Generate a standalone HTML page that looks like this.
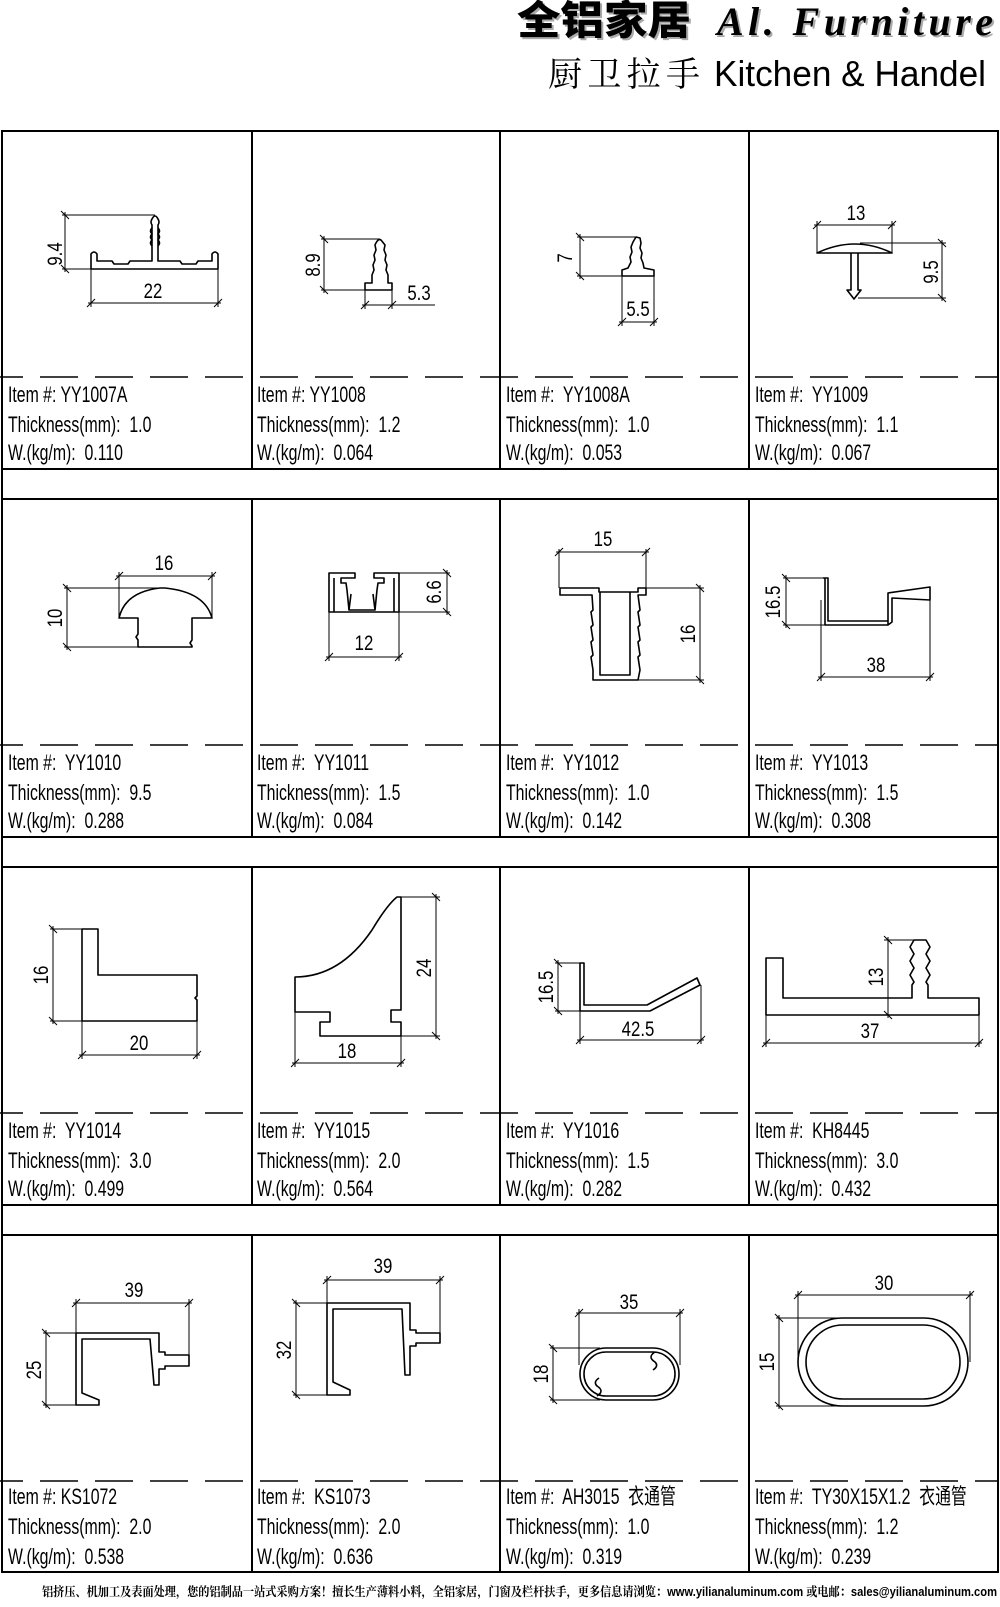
<!DOCTYPE html>
<html><head><meta charset="utf-8"><style>
html,body{margin:0;padding:0;background:#fff;}
svg{display:block}
.p{fill:none;stroke:#000;stroke-width:1.6;stroke-linejoin:round}
.d{fill:none;stroke:#000;stroke-width:1}
.t{font-family:"Liberation Sans",sans-serif;font-size:22px;fill:#000}
.t text{white-space:pre}
.n{font-family:"Liberation Sans",sans-serif;font-size:21px;fill:#000}
</style></head><body>
<svg width="1000" height="1607" viewBox="0 0 1000 1607" xmlns="http://www.w3.org/2000/svg">
<!-- header -->
<text x="519" y="36" fill="#aaa" font-family="'Noto Sans CJK SC',sans-serif" font-weight="900" font-size="40" textLength="174" lengthAdjust="spacingAndGlyphs">全铝家居</text>
<text x="517" y="34" font-family="'Noto Sans CJK SC',sans-serif" font-weight="900" font-size="40" textLength="174" lengthAdjust="spacingAndGlyphs">全铝家居</text>
<text x="717" y="35" fill="#aaa" font-family="'Liberation Serif',serif" font-weight="bold" font-style="italic" font-size="40" textLength="276" transform="translate(2,2)">Al. Furniture</text>
<text x="717" y="35" font-family="'Liberation Serif',serif" font-weight="bold" font-style="italic" font-size="40" textLength="276">Al. Furniture</text>
<text x="548" y="86" font-family="'Noto Serif CJK SC',serif" font-size="34" textLength="152">厨卫拉手</text>
<text x="714" y="86" font-family="'Liberation Sans',sans-serif" font-size="36" textLength="272" lengthAdjust="spacingAndGlyphs">Kitchen &amp; Handel</text>

<!-- table -->
<g stroke="#000" stroke-width="2" fill="none">
<rect x="2" y="131" width="996" height="1441"/>
<line x1="2" y1="469" x2="998" y2="469"/><line x1="2" y1="499" x2="998" y2="499"/>
<line x1="2" y1="837" x2="998" y2="837"/><line x1="2" y1="867" x2="998" y2="867"/>
<line x1="2" y1="1205" x2="998" y2="1205"/><line x1="2" y1="1235" x2="998" y2="1235"/>
<line x1="252" y1="131" x2="252" y2="469"/><line x1="500" y1="131" x2="500" y2="469"/><line x1="749" y1="131" x2="749" y2="469"/>
<line x1="252" y1="499" x2="252" y2="837"/><line x1="500" y1="499" x2="500" y2="837"/><line x1="749" y1="499" x2="749" y2="837"/>
<line x1="252" y1="867" x2="252" y2="1205"/><line x1="500" y1="867" x2="500" y2="1205"/><line x1="749" y1="867" x2="749" y2="1205"/>
<line x1="252" y1="1235" x2="252" y2="1572"/><line x1="500" y1="1235" x2="500" y2="1572"/><line x1="749" y1="1235" x2="749" y2="1572"/>
</g>
<g stroke="#000" stroke-width="1.5" stroke-dasharray="38 17">
<line x1="-15" y1="377" x2="998" y2="377"/>
<line x1="-15" y1="745" x2="998" y2="745"/>
<line x1="-15" y1="1113" x2="998" y2="1113"/>
<line x1="-15" y1="1481" x2="998" y2="1481"/>
</g>

<!-- info texts -->
<g class="t">
<g transform="translate(8,0) scale(0.72,1)"><text y="402">Item #: YY1007A</text><text y="432">Thickness(mm):  1.0</text><text y="460">W.(kg/m):  0.110</text></g>
<g transform="translate(257,0) scale(0.72,1)"><text y="402">Item #: YY1008</text><text y="432">Thickness(mm):  1.2</text><text y="460">W.(kg/m):  0.064</text></g>
<g transform="translate(506,0) scale(0.72,1)"><text y="402">Item #:  YY1008A</text><text y="432">Thickness(mm):  1.0</text><text y="460">W.(kg/m):  0.053</text></g>
<g transform="translate(755,0) scale(0.72,1)"><text y="402">Item #:  YY1009</text><text y="432">Thickness(mm):  1.1</text><text y="460">W.(kg/m):  0.067</text></g>

<g transform="translate(8,368) scale(0.72,1)"><text y="402">Item #:  YY1010</text><text y="432">Thickness(mm):  9.5</text><text y="460">W.(kg/m):  0.288</text></g>
<g transform="translate(257,368) scale(0.72,1)"><text y="402">Item #:  YY1011</text><text y="432">Thickness(mm):  1.5</text><text y="460">W.(kg/m):  0.084</text></g>
<g transform="translate(506,368) scale(0.72,1)"><text y="402">Item #:  YY1012</text><text y="432">Thickness(mm):  1.0</text><text y="460">W.(kg/m):  0.142</text></g>
<g transform="translate(755,368) scale(0.72,1)"><text y="402">Item #:  YY1013</text><text y="432">Thickness(mm):  1.5</text><text y="460">W.(kg/m):  0.308</text></g>

<g transform="translate(8,736) scale(0.72,1)"><text y="402">Item #:  YY1014</text><text y="432">Thickness(mm):  3.0</text><text y="460">W.(kg/m):  0.499</text></g>
<g transform="translate(257,736) scale(0.72,1)"><text y="402">Item #:  YY1015</text><text y="432">Thickness(mm):  2.0</text><text y="460">W.(kg/m):  0.564</text></g>
<g transform="translate(506,736) scale(0.72,1)"><text y="402">Item #:  YY1016</text><text y="432">Thickness(mm):  1.5</text><text y="460">W.(kg/m):  0.282</text></g>
<g transform="translate(755,736) scale(0.72,1)"><text y="402">Item #:  KH8445</text><text y="432">Thickness(mm):  3.0</text><text y="460">W.(kg/m):  0.432</text></g>

<g transform="translate(8,1104) scale(0.72,1)"><text y="400">Item #: KS1072</text><text y="430">Thickness(mm):  2.0</text><text y="460">W.(kg/m):  0.538</text></g>
<g transform="translate(257,1104) scale(0.72,1)"><text y="400">Item #:  KS1073</text><text y="430">Thickness(mm):  2.0</text><text y="460">W.(kg/m):  0.636</text></g>
<g transform="translate(506,1104) scale(0.72,1)"><text y="400">Item #:  AH3015  <tspan font-family="'Noto Sans CJK SC',sans-serif">衣通管</tspan></text><text y="430">Thickness(mm):  1.0</text><text y="460">W.(kg/m):  0.319</text></g>
<g transform="translate(755,1104) scale(0.72,1)"><text y="400">Item #:  TY30X15X1.2  <tspan font-family="'Noto Sans CJK SC',sans-serif">衣通管</tspan></text><text y="430">Thickness(mm):  1.2</text><text y="460">W.(kg/m):  0.239</text></g>
</g>

<!-- ROW 1 drawings -->
<path class="p" d="M91,269 L91,254 Q94,250 97,254 L97,261 L112,261 L114,264 L128,264 L130,261 L152,261 L152,225 Q150,222 152,219 Q155,213 158,219 Q160,222 158,225 L158,261 L180,261 L182,264 L196,264 L198,261 L212,261 L212,254 Q215,250 218,254 L218,269 Z"/>
<path class="p" d="M152,228 q-3,3 0,6 q-3,3 0,6 q-3,3 0,6 M158,228 q3,3 0,6 q3,3 0,6 q3,3 0,6" />
<g class="d"><line x1="62" y1="215" x2="155" y2="215"/><line x1="62" y1="269" x2="91" y2="269"/><line x1="65" y1="212" x2="65" y2="272"/>
<line x1="61" y1="211" x2="69" y2="219"/><line x1="61" y1="265" x2="69" y2="273"/>
<line x1="91" y1="269" x2="91" y2="307"/><line x1="218" y1="269" x2="218" y2="307"/><line x1="88" y1="303" x2="221" y2="303"/>
<line x1="87" y1="307" x2="95" y2="299"/><line x1="214" y1="307" x2="222" y2="299"/></g>
<text class="n" transform="translate(62,254) rotate(-90) scale(0.8,1)" text-anchor="middle">9.4</text>
<text class="n" transform="translate(153,298) scale(0.8,1)" text-anchor="middle">22</text>

<path class="p" d="M365,290 L365,283 L372,283 L372,275 L374,270 L373,265 L375,260 L374,255 L376,250 L375,245 Q378,238 381,240 L385,245 L384,250 L386,255 L385,260 L387,265 L386,270 L388,275 L388,283 L392,283 L392,290 Z"/>
<g class="d"><line x1="321" y1="239" x2="380" y2="239"/><line x1="321" y1="290" x2="365" y2="290"/><line x1="324" y1="236" x2="324" y2="293"/>
<line x1="320" y1="235" x2="328" y2="243"/><line x1="320" y1="286" x2="328" y2="294"/>
<line x1="365" y1="290" x2="365" y2="309"/><line x1="392" y1="290" x2="392" y2="309"/><line x1="362" y1="305" x2="435" y2="305"/>
<line x1="361" y1="309" x2="369" y2="301"/><line x1="388" y1="309" x2="396" y2="301"/></g>
<text class="n" transform="translate(320,265) rotate(-90) scale(0.8,1)" text-anchor="middle">8.9</text>
<text class="n" transform="translate(419,300) scale(0.8,1)" text-anchor="middle">5.3</text>

<path class="p" d="M622,276 L622,270 L628,268 L631,262 L630,257 L632,252 L631,247 L633,242 L636,237 L640,238 L641,243 L640,248 L642,253 L641,258 L643,263 L644,268 L654,270 L654,276 Z"/>
<g class="d"><line x1="577" y1="237" x2="636" y2="237"/><line x1="577" y1="276" x2="622" y2="276"/><line x1="580" y1="234" x2="580" y2="279"/>
<line x1="576" y1="233" x2="584" y2="241"/><line x1="576" y1="272" x2="584" y2="280"/>
<line x1="622" y1="276" x2="622" y2="326"/><line x1="654" y1="276" x2="654" y2="326"/><line x1="619" y1="322" x2="657" y2="322"/>
<line x1="618" y1="326" x2="626" y2="318"/><line x1="650" y1="326" x2="658" y2="318"/></g>
<text class="n" transform="translate(572,258) rotate(-90) scale(0.8,1)" text-anchor="middle">7</text>
<text class="n" transform="translate(638,316) scale(0.8,1)" text-anchor="middle">5.5</text>

<path class="p" d="M817,253 Q855,235 892,253 Z M851,253 L851,290 L847,290 L854,299 L861,290 L858,290 L858,253"/>
<g class="d"><line x1="817" y1="221" x2="817" y2="253"/><line x1="892" y1="221" x2="892" y2="253"/><line x1="814" y1="225" x2="895" y2="225"/>
<line x1="813" y1="229" x2="821" y2="221"/><line x1="888" y1="229" x2="896" y2="221"/>
<line x1="860" y1="243" x2="946" y2="243"/><line x1="858" y1="298" x2="946" y2="298"/><line x1="942" y1="240" x2="942" y2="301"/>
<line x1="938" y1="239" x2="946" y2="247"/><line x1="938" y1="294" x2="946" y2="302"/></g>
<text class="n" transform="translate(856,220) scale(0.8,1)" text-anchor="middle">13</text>
<text class="n" transform="translate(938,272) rotate(-90) scale(0.8,1)" text-anchor="middle">9.5</text>

<!-- ROW 2 -->
<path class="p" d="M119,618 Q125,592 160,588 L165,588 Q205,592 212,618 L192,618 L192,640 L190,643 L192,646 L192,647 L138,647 L138,640 L136,637 L138,634 L138,618 Z"/>
<g class="d"><line x1="64" y1="588" x2="162" y2="588"/><line x1="64" y1="647" x2="138" y2="647"/><line x1="67" y1="585" x2="67" y2="650"/>
<line x1="63" y1="584" x2="71" y2="592"/><line x1="63" y1="643" x2="71" y2="651"/>
<line x1="119" y1="572" x2="119" y2="618"/><line x1="212" y1="572" x2="212" y2="618"/><line x1="116" y1="576" x2="215" y2="576"/>
<line x1="115" y1="580" x2="123" y2="572"/><line x1="208" y1="580" x2="216" y2="572"/></g>
<text class="n" transform="translate(62,618) rotate(-90) scale(0.8,1)" text-anchor="middle">10</text>
<text class="n" transform="translate(164,570) scale(0.8,1)" text-anchor="middle">16</text>

<path class="p" d="M329,612 L329,573 L355,573 L355,578 L341,578 L341,583 L346,583 L347,590 L349,610 L375,610 L377,590 L378,583 L384,583 L384,578 L374,578 L374,573 L399,573 L399,612 Z"/>
<path class="p" d="M334,612 L334,578 M394,578 L394,612 M349,610 L351,594 M375,610 L373,594"/>
<g class="d"><line x1="399" y1="573" x2="450" y2="573"/><line x1="399" y1="612" x2="450" y2="612"/><line x1="447" y1="570" x2="447" y2="615"/>
<line x1="443" y1="569" x2="451" y2="577"/><line x1="443" y1="608" x2="451" y2="616"/>
<line x1="329" y1="612" x2="329" y2="661"/><line x1="399" y1="612" x2="399" y2="661"/><line x1="326" y1="657" x2="402" y2="657"/>
<line x1="325" y1="661" x2="333" y2="653"/><line x1="395" y1="661" x2="403" y2="653"/></g>
<text class="n" transform="translate(441,592) rotate(-90) scale(0.8,1)" text-anchor="middle">6.6</text>
<text class="n" transform="translate(364,650) scale(0.8,1)" text-anchor="middle">12</text>

<path class="p" d="M560,588 L599,588 L599,592 L638,592 L638,588 L646,588 L646,595 L638,595 L640,610 L638,612 L640,625 L638,627 L640,640 L638,642 L640,655 L638,657 L640,670 L638,680 L593,680 L593,670 L591,657 L593,655 L591,642 L593,640 L591,627 L593,625 L591,612 L593,610 L592,595 L560,595 Z"/>
<path class="p" d="M600,592 L600,675 L630,675 L630,592"/>
<g class="d"><line x1="559" y1="549" x2="559" y2="588"/><line x1="646" y1="549" x2="646" y2="588"/><line x1="556" y1="552" x2="649" y2="552"/>
<line x1="555" y1="556" x2="563" y2="548"/><line x1="642" y1="556" x2="650" y2="548"/>
<line x1="646" y1="588" x2="704" y2="588"/><line x1="638" y1="680" x2="704" y2="680"/><line x1="700" y1="585" x2="700" y2="683"/>
<line x1="696" y1="584" x2="704" y2="592"/><line x1="696" y1="676" x2="704" y2="684"/></g>
<text class="n" transform="translate(603,546) scale(0.8,1)" text-anchor="middle">15</text>
<text class="n" transform="translate(695,634) rotate(-90) scale(0.8,1)" text-anchor="middle">16</text>

<path class="p" d="M823,578 L825,578 L825,625 L888,625 L888,593 L930,587 L930,600 L892,598 L892,622 L888,625 M825,578 L828,578 L828,621 L888,621"/>
<g class="d"><line x1="783" y1="578" x2="825" y2="578"/><line x1="783" y1="625" x2="825" y2="625"/><line x1="786" y1="575" x2="786" y2="628"/>
<line x1="782" y1="574" x2="790" y2="582"/><line x1="782" y1="621" x2="790" y2="629"/>
<line x1="821" y1="600" x2="821" y2="681"/><line x1="930" y1="600" x2="930" y2="681"/><line x1="818" y1="677" x2="933" y2="677"/>
<line x1="817" y1="681" x2="825" y2="673"/><line x1="926" y1="681" x2="934" y2="673"/></g>
<text class="n" transform="translate(780,602) rotate(-90) scale(0.8,1)" text-anchor="middle">16.5</text>
<text class="n" transform="translate(876,672) scale(0.8,1)" text-anchor="middle">38</text>

<!-- ROW 3 -->
<path class="p" d="M82,929 L98,929 L98,975 L197,975 L197,996 L195,998 L197,1000 L197,1021 L82,1021 Z"/>
<g class="d"><line x1="50" y1="929" x2="82" y2="929"/><line x1="50" y1="1021" x2="82" y2="1021"/><line x1="53" y1="926" x2="53" y2="1024"/>
<line x1="49" y1="925" x2="57" y2="933"/><line x1="49" y1="1017" x2="57" y2="1025"/>
<line x1="82" y1="1021" x2="82" y2="1059"/><line x1="197" y1="1021" x2="197" y2="1059"/><line x1="79" y1="1055" x2="200" y2="1055"/>
<line x1="78" y1="1059" x2="86" y2="1051"/><line x1="193" y1="1059" x2="201" y2="1051"/></g>
<text class="n" transform="translate(48,975) rotate(-90) scale(0.8,1)" text-anchor="middle">16</text>
<text class="n" transform="translate(139,1050) scale(0.8,1)" text-anchor="middle">20</text>

<path class="p" d="M295,1012 L295,977 Q340,977 372,930 Q387,905 397,897 L401,897 L401,1010 L391,1010 L391,1022 L401,1022 L401,1036 L320,1036 L320,1022 L330,1022 L330,1012 Z"/>
<g class="d"><line x1="401" y1="897" x2="440" y2="897"/><line x1="401" y1="1036" x2="440" y2="1036"/><line x1="436" y1="894" x2="436" y2="1039"/>
<line x1="432" y1="893" x2="440" y2="901"/><line x1="432" y1="1032" x2="440" y2="1040"/>
<line x1="295" y1="1012" x2="295" y2="1067"/><line x1="401" y1="1036" x2="401" y2="1067"/><line x1="292" y1="1063" x2="404" y2="1063"/>
<line x1="291" y1="1067" x2="299" y2="1059"/><line x1="397" y1="1067" x2="405" y2="1059"/></g>
<text class="n" transform="translate(431,968) rotate(-90) scale(0.8,1)" text-anchor="middle">24</text>
<text class="n" transform="translate(347,1058) scale(0.8,1)" text-anchor="middle">18</text>

<path class="p" d="M580,963 L584,963 L584,1005 L647,1005 L697,978 L700,985 L650,1011 L580,1011 Z"/>
<g class="d"><line x1="555" y1="963" x2="580" y2="963"/><line x1="555" y1="1011" x2="580" y2="1011"/><line x1="558" y1="960" x2="558" y2="1014"/>
<line x1="554" y1="959" x2="562" y2="967"/><line x1="554" y1="1007" x2="562" y2="1015"/>
<line x1="580" y1="1011" x2="580" y2="1044"/><line x1="701" y1="985" x2="701" y2="1044"/><line x1="577" y1="1040" x2="704" y2="1040"/>
<line x1="576" y1="1044" x2="584" y2="1036"/><line x1="697" y1="1044" x2="705" y2="1036"/></g>
<text class="n" transform="translate(553,987) rotate(-90) scale(0.8,1)" text-anchor="middle">16.5</text>
<text class="n" transform="translate(638,1036) scale(0.8,1)" text-anchor="middle">42.5</text>

<path class="p" d="M766,1015 L766,958 L783,958 L783,998 L912,998 L912,985 L914,982 L910,975 L914,968 L910,961 L914,954 L910,947 L914,940 L926,940 L930,947 L926,954 L930,961 L926,968 L930,975 L926,982 L928,985 L928,998 L979,998 L979,1015 Z"/>
<g class="d"><line x1="884" y1="940" x2="914" y2="940"/><line x1="888" y1="937" x2="888" y2="1018"/>
<line x1="884" y1="936" x2="892" y2="944"/><line x1="884" y1="1011" x2="892" y2="1019"/>
<line x1="766" y1="1015" x2="766" y2="1047"/><line x1="979" y1="1015" x2="979" y2="1047"/><line x1="763" y1="1043" x2="982" y2="1043"/>
<line x1="762" y1="1047" x2="770" y2="1039"/><line x1="975" y1="1047" x2="983" y2="1039"/></g>
<text class="n" transform="translate(883,977) rotate(-90) scale(0.8,1)" text-anchor="middle">13</text>
<text class="n" transform="translate(870,1038) scale(0.8,1)" text-anchor="middle">37</text>

<!-- ROW 4 -->
<path class="p" d="M76,1405 L76,1333 L159,1333 L159,1352 L165,1352 L165,1355 L189,1355 L189,1366 L165,1366 L165,1369 L159,1369 L159,1385 L154,1385 L150,1339 L82,1339 L82,1393 L99,1400 L99,1405 Z"/>
<g class="d"><line x1="43" y1="1333" x2="76" y2="1333"/><line x1="43" y1="1405" x2="76" y2="1405"/><line x1="46" y1="1330" x2="46" y2="1408"/>
<line x1="42" y1="1329" x2="50" y2="1337"/><line x1="42" y1="1401" x2="50" y2="1409"/>
<line x1="76" y1="1299" x2="76" y2="1333"/><line x1="189" y1="1299" x2="189" y2="1355"/><line x1="73" y1="1303" x2="192" y2="1303"/>
<line x1="72" y1="1307" x2="80" y2="1299"/><line x1="185" y1="1307" x2="193" y2="1299"/></g>
<text class="n" transform="translate(41,1370) rotate(-90) scale(0.8,1)" text-anchor="middle">25</text>
<text class="n" transform="translate(134,1297) scale(0.8,1)" text-anchor="middle">39</text>

<path class="p" d="M327,1395 L327,1303 L410,1303 L410,1330 L416,1330 L416,1333 L440,1333 L440,1343 L416,1343 L416,1346 L410,1346 L410,1375 L405,1375 L402,1309 L333,1309 L333,1382 L350,1390 L350,1395 Z"/>
<g class="d"><line x1="293" y1="1303" x2="327" y2="1303"/><line x1="293" y1="1395" x2="327" y2="1395"/><line x1="296" y1="1300" x2="296" y2="1398"/>
<line x1="292" y1="1299" x2="300" y2="1307"/><line x1="292" y1="1391" x2="300" y2="1399"/>
<line x1="327" y1="1276" x2="327" y2="1303"/><line x1="440" y1="1276" x2="440" y2="1333"/><line x1="324" y1="1280" x2="443" y2="1280"/>
<line x1="323" y1="1284" x2="331" y2="1276"/><line x1="436" y1="1284" x2="444" y2="1276"/></g>
<text class="n" transform="translate(291,1350) rotate(-90) scale(0.8,1)" text-anchor="middle">32</text>
<text class="n" transform="translate(383,1273) scale(0.8,1)" text-anchor="middle">39</text>

<rect class="p" x="580" y="1348" width="99" height="52" rx="26"/>
<rect class="p" x="584" y="1352" width="91" height="44" rx="22"/>
<path class="p" d="M655,1352 q-8,5 0,10 q4,4 -2,8 M597,1396 q8,-5 0,-10 q-4,-4 2,-8"/>
<g class="d"><line x1="550" y1="1348" x2="600" y2="1348"/><line x1="550" y1="1400" x2="600" y2="1400"/><line x1="553" y1="1345" x2="553" y2="1403"/>
<line x1="549" y1="1344" x2="557" y2="1352"/><line x1="549" y1="1396" x2="557" y2="1404"/>
<line x1="579" y1="1309" x2="579" y2="1365"/><line x1="680" y1="1309" x2="680" y2="1365"/><line x1="576" y1="1313" x2="683" y2="1313"/>
<line x1="575" y1="1317" x2="583" y2="1309"/><line x1="676" y1="1317" x2="684" y2="1309"/></g>
<text class="n" transform="translate(548,1374) rotate(-90) scale(0.8,1)" text-anchor="middle">18</text>
<text class="n" transform="translate(629,1309) scale(0.8,1)" text-anchor="middle">35</text>

<rect class="p" x="798" y="1318" width="170" height="88" rx="44"/>
<rect class="p" x="806" y="1325" width="154" height="74" rx="37"/>
<g class="d"><line x1="776" y1="1318" x2="840" y2="1318"/><line x1="776" y1="1406" x2="840" y2="1406"/><line x1="779" y1="1315" x2="779" y2="1409"/>
<line x1="775" y1="1314" x2="783" y2="1322"/><line x1="775" y1="1402" x2="783" y2="1410"/>
<line x1="798" y1="1291" x2="798" y2="1362"/><line x1="970" y1="1291" x2="970" y2="1362"/><line x1="795" y1="1295" x2="973" y2="1295"/>
<line x1="794" y1="1299" x2="802" y2="1291"/><line x1="966" y1="1299" x2="974" y2="1291"/></g>
<text class="n" transform="translate(774,1362) rotate(-90) scale(0.8,1)" text-anchor="middle">15</text>
<text class="n" transform="translate(884,1290) scale(0.8,1)" text-anchor="middle">30</text>

<!-- footer -->
<text x="42" y="1596" font-family="'Liberation Sans','Noto Serif CJK SC',sans-serif" font-weight="bold" font-size="12.5" textLength="955" lengthAdjust="spacingAndGlyphs">铝挤压、机加工及表面处理，您的铝制品一站式采购方案！擅长生产薄料小料，全铝家居，门窗及栏杆扶手，更多信息请浏览：www.yilianaluminum.com 或电邮：sales@yilianaluminum.com</text>
</svg>
</body></html>
